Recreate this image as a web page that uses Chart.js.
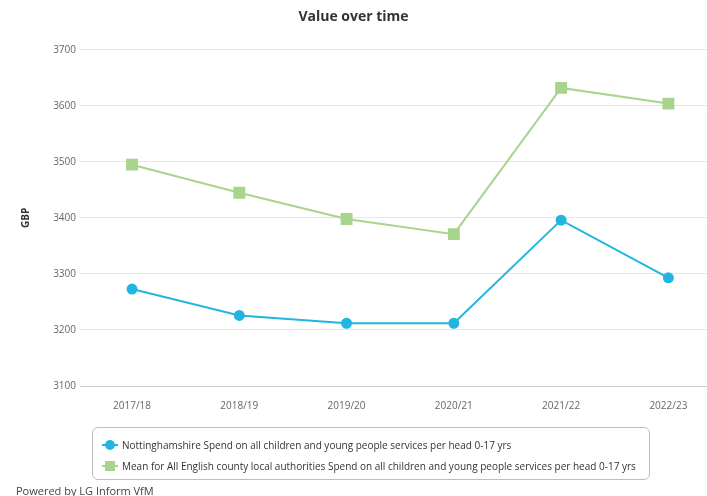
<!DOCTYPE html>
<html>
<head>
<meta charset="utf-8">
<script src="https://cdn.jsdelivr.net/npm/chart.js@4"></script>
<style>
    html, body { margin: 0; padding: 0; background: #fff; }
    #wrap { position: relative; width: 707px; height: 496px; font-family: 'Open Sans', sans-serif; }
    #chart { position: absolute; left: 0; top: 0; }
    #legend {
        position: absolute; left: 92px; top: 427px; width: 558px; height: 53px;
        border: 1px solid #bdbdbd; border-radius: 6px; box-sizing: border-box;
        padding: 6px 0 0 9px; font-size: 10px; color: #333;
    }
    .item { display: flex; align-items: center; height: 21px; white-space: nowrap; }
    .sym { position: relative; flex: 0 0 16px; width: 16px; height: 12px; margin-right: 4px; }
    .sym .ln { position: absolute; left: 0; top: 5px; width: 16px; height: 2px; }
    .sym .mk { position: absolute; left: 3px; top: 1px; width: 10px; height: 10px; }
    .txt { flex: 0 0 auto; }
    #credit { position: absolute; left: 16px; top: 483px; font-size: 11px; color: #444; }
</style>
</head>
<body>
<div id="wrap">
    <canvas id="chart" width="707" height="496"></canvas>
    <div id="legend"></div>
    <div id="credit">Powered by LG Inform VfM</div>
</div>
<script>
// Data
const years = ['2017/18', '2018/19', '2019/20', '2020/21', '2021/22', '2022/23'];
const nottsValues = [3273, 3226, 3212, 3212, 3396, 3293];
const meanValues = [3495, 3445, 3398, 3371, 3632, 3604];
const yTicks = [3100, 3200, 3300, 3400, 3500, 3600, 3700];

const seriesLabels = [
    'Nottinghamshire Spend on all children and young people services per head 0-17 yrs',
    'Mean for All English county local authorities Spend on all children and young people services per head 0-17 yrs'
];

const BLUE = '#22b5e2';
const GREEN = '#a7d58d';
const FONT = "'Open Sans', sans-serif";

const toPoints = (vals) => vals.map((v, i) => ({ x: i, y: v }));

const chart = new Chart(document.getElementById('chart').getContext('2d'), {
    type: 'line',
    data: {
        datasets: [
            {
                label: seriesLabels[0],
                data: toPoints(nottsValues),
                borderColor: BLUE,
                backgroundColor: BLUE,
                borderWidth: 2,
                pointStyle: 'circle',
                pointRadius: 4.5,
                tension: 0
            },
            {
                label: seriesLabels[1],
                data: toPoints(meanValues),
                borderColor: GREEN,
                backgroundColor: GREEN,
                borderWidth: 2,
                pointStyle: 'rect',
                pointRadius: 7,
                tension: 0
            }
        ]
    },
    options: {
        responsive: false,
        animation: false,
        // plot runs off the right edge in the original screenshot
        layout: { autoPadding: false, padding: { left: 0, right: 0, top: 0, bottom: 80 } },
        plugins: {
            legend: { display: false },
            tooltip: { enabled: false },
            title: {
                display: true,
                text: 'Value over time',
                color: '#333',
                font: { family: FONT, size: 14, weight: 'bold' },
                padding: { top: 9, bottom: 24 }
            }
        },
        scales: {
            x: {
                type: 'linear',
                min: -0.485,
                max: 5.36,
                afterFit: (scale) => {
                    scale.height = 30;
                    scale.paddingLeft = 0;
                    scale.paddingRight = 0;
                },
                grid: { display: false },
                border: { display: true, color: '#cccccc' },
                ticks: {
                    stepSize: 1,
                    includeBounds: false,
                    autoSkip: false,
                    maxRotation: 0,
                    padding: 6,
                    color: '#666',
                    font: { family: FONT, size: 10 },
                    callback: (v) => Number.isInteger(v) ? years[v] : ''
                }
            },
            y: {
                min: yTicks[0],
                max: yTicks[yTicks.length - 1],
                afterFit: (scale) => { scale.width = 80; },
                afterBuildTicks: (scale) => { scale.ticks = yTicks.map(v => ({ value: v })); },
                grid: { color: '#e6e6e6', drawTicks: false },
                border: { display: false },
                ticks: {
                    padding: 4,
                    color: '#666',
                    font: { family: FONT, size: 10 },
                    callback: (v) => String(v)
                },
                title: {
                    display: true,
                    text: 'GBP',
                    color: '#333',
                    font: { family: FONT, size: 10, weight: 'bold' },
                    padding: { top: 20, bottom: 0 }
                }
            }
        }
    }
});

// HTML legend built from the datasets
const legendEl = document.getElementById('legend');
chart.data.datasets.forEach((ds) => {
    const item = document.createElement('div');
    item.className = 'item';
    const radius = ds.pointStyle === 'circle' ? '50%' : '0';
    item.innerHTML =
        `<span class="sym"><span class="ln" style="background:${ds.borderColor}"></span>` +
        `<span class="mk" style="background:${ds.backgroundColor};border-radius:${radius}"></span></span>` +
        `<span class="txt">${ds.label}</span>`;
    legendEl.appendChild(item);
});
</script>
</body>
</html>
